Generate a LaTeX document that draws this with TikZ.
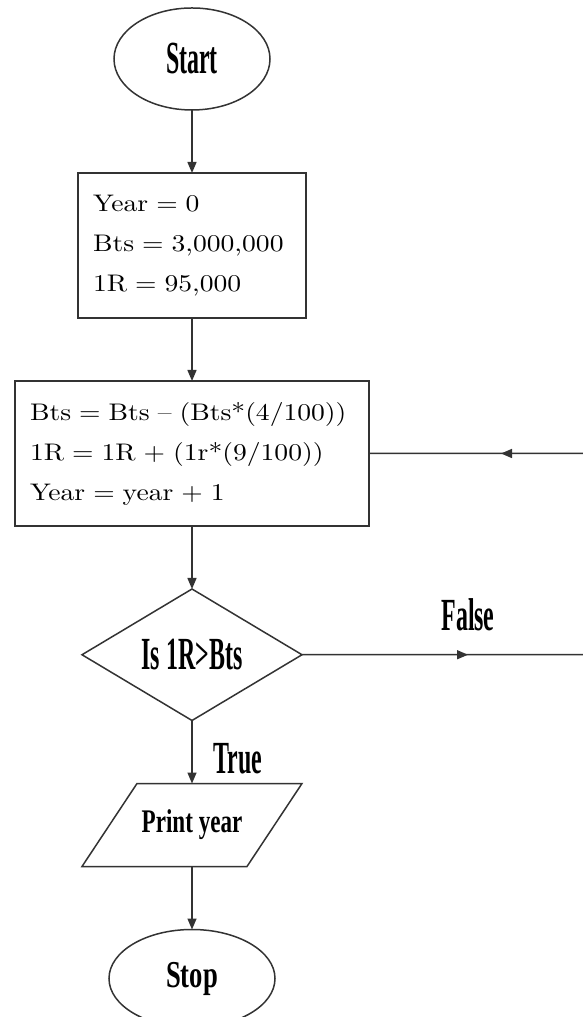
\documentclass[tikz,border=0pt]{standalone}
\usepackage{fontspec}
\newfontfamily\boxfont{lmroman10-regular.otf}[FakeStretch=1.15, Ligatures=TeX]
\newfontfamily\termfont{Liberation Serif}[FakeStretch=0.52]
\newfontfamily\outfont{Liberation Serif}[FakeStretch=0.7]
\usetikzlibrary{positioning, arrows.meta, shapes.geometric}
\definecolor{edge}{HTML}{333333}
\tikzset{
  base/.style={draw=edge, line width=1.5pt, inner sep=0pt, outer sep=0pt},
  termbox/.style={base, ellipse, font=\termfont\bfseries\fontsize{46}{46}\selectfont},
  procbox/.style={base, rectangle, minimum height=145pt, align=left,
                  inner xsep=15pt, font=\boxfont\fontsize{24}{40}\selectfont},
  decbox/.style={base, diamond, minimum width=220pt, minimum height=122pt,
                 font=\termfont\bfseries\fontsize{46}{46}\selectfont},
  iobox/.style={rectangle, inner sep=0pt, outer sep=0pt, minimum width=165pt,
                minimum height=83pt, font=\outfont\bfseries\fontsize{33}{33}\selectfont},
  arrow/.style={-{Triangle[length=11pt, width=9pt]}, draw=edge, line width=1.5pt},
  line/.style={draw=edge, line width=1.5pt},
  lbl/.style={inner sep=0pt, font=\termfont\bfseries\fontsize{46}{46}\selectfont},
}
\begin{document}
\begin{tikzpicture}[x=1pt, y=1pt, node distance=63pt]
\useasboundingbox (0,0) rectangle (583,1017);

%% ====================  MAIN COLUMN  ====================

\node[termbox, minimum width=156pt, minimum height=102pt] (start) at (192,958) {Start};

\node[procbox, text width=198pt, below=of start]
  (init) {Year = 0\\ Bts = 3,000,000\\ 1R = 95,000};

\node[procbox, text width=324pt, below=of init]
  (update) {Bts = Bts -- (Bts*(4/100))\\ 1R = 1R + (1r*(9/100))\\ Year = year + 1};

\node[decbox, below=of update] (check) {Is 1R>Bts};

\node[iobox, below=of check] (print) {Print year};
% slanted outline of the output box
\draw[line] ([xshift=27.5pt]print.north west) -- ([xshift=27.5pt]print.north east)
  -- ([xshift=-27.5pt]print.south east) -- ([xshift=-27.5pt]print.south west) -- cycle;

\node[termbox, minimum width=166pt, minimum height=98pt,
      font=\outfont\bfseries\fontsize{38}{38}\selectfont, below=of print] (stop) {Stop};

%% ====================  ARROWS  ====================

\draw[arrow] (start.south) -- (init.north);
\draw[arrow] (init.south) -- (update.north);
\draw[arrow] (update.south) -- (check.north);
\draw[arrow] (check.south) -- (print.north);
\draw[arrow] (print.south) -- (stop.north);

\node[lbl, below right=23pt and 21pt of check.south] (true) {True};

%% ====================  FALSE LOOP  ====================

\coordinate[right=166pt of check.east] (fmid);
\coordinate[right=290pt of check.east] (loopb);
\coordinate[right=132pt of update.east] (tmid);
\coordinate[right=224pt of update.east] (loopt);

\draw[line] (check.east) -- (loopb) -- (loopt) -- (update.east);
\draw[arrow] (check.east) -- (fmid);
\draw[arrow] (loopt) -- (tmid);

\node[lbl, above=24pt of fmid] (false) {False};

\end{tikzpicture}
\end{document}
